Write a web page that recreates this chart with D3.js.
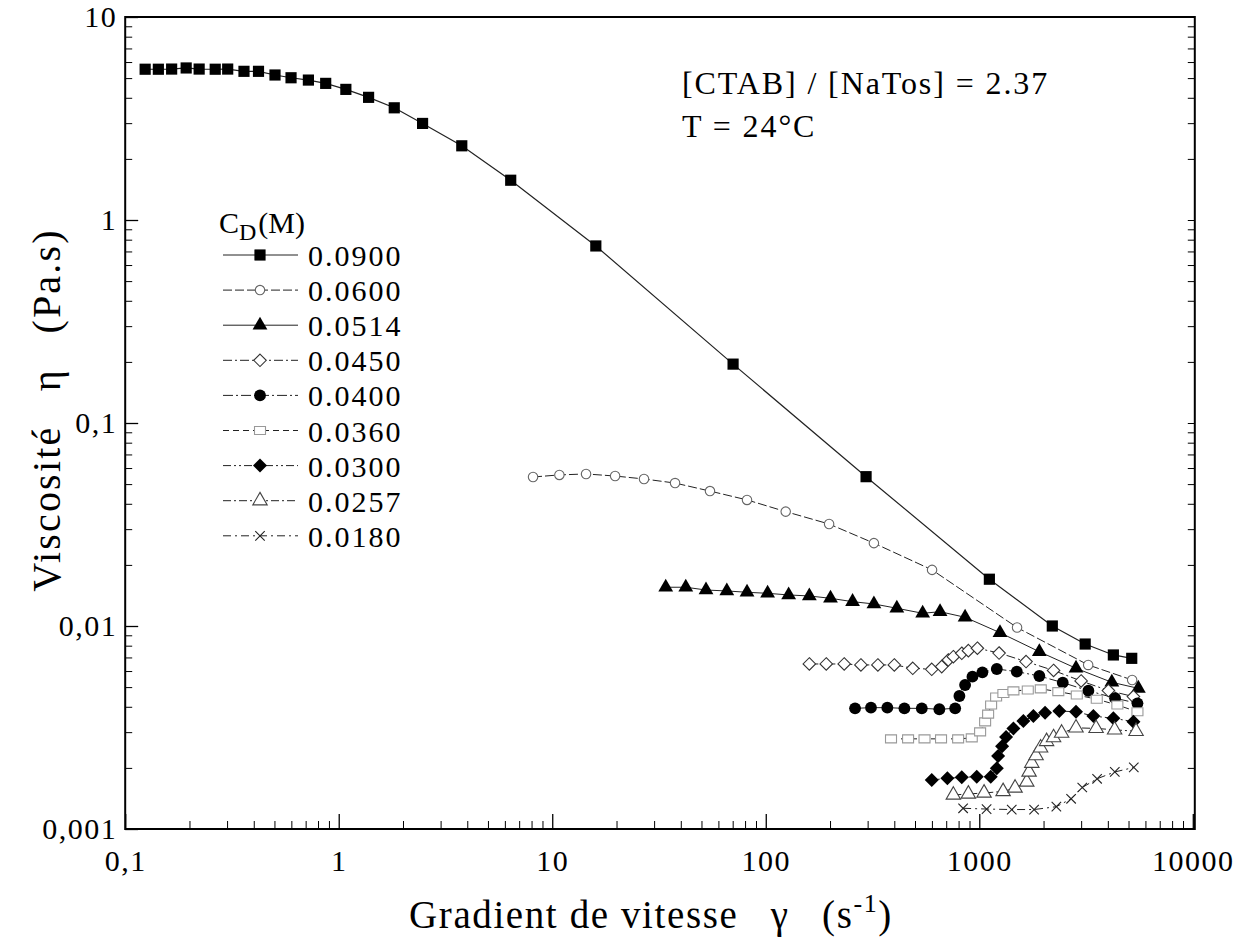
<!DOCTYPE html>
<html><head><meta charset="utf-8">
<script src="https://cdn.jsdelivr.net/npm/d3@7"></script>
<style>
body{margin:0;background:#fff;}
svg text{font-family:"Liberation Serif","Times New Roman",serif;fill:#000;}
</style></head><body>
<svg id="c" width="1254" height="944"></svg>
<script>
// ---- data ----
const seriesNames = ["0.0900","0.0600","0.0514","0.0450","0.0400","0.0360","0.0300","0.0257","0.0180"];
const x0900 = [0.124,0.143,0.165,0.193,0.222,0.264,0.302,0.360,0.421,0.503,0.598,0.721,0.869,1.08,1.38,1.82,2.47,3.77,6.39,16.0,70.3,295,1115,2198,3133,4246,5176];
const y0900 = [5.53,5.53,5.54,5.61,5.54,5.53,5.54,5.40,5.40,5.18,5.02,4.89,4.71,4.40,4.02,3.57,2.99,2.32,1.57,0.745,0.195,0.0544,0.0170,0.0100,0.00815,0.00720,0.00693];
const x0600 = [8.13,10.8,14.4,19.7,26.9,37.6,54.8,81.7,124,198,321,601,1503,3236,5200];
const y0600 = [0.0542,0.0555,0.0561,0.0548,0.0530,0.0506,0.0462,0.0418,0.0366,0.0318,0.0256,0.0189,0.00983,0.00643,0.00542];
const x0514 = [34.0,42.2,52.5,65.7,81.7,102,128,160,201,255,321,411,543,655,858,1250,1911,2838,4176,5560];
const y0514 = [0.01552,0.01552,0.01504,0.01488,0.01466,0.01449,0.01422,0.01406,0.01369,0.01318,0.01284,0.01223,0.01155,0.01176,0.01104,0.00927,0.00747,0.00619,0.00528,0.00493];
const x0450 = [160,192,233,279,335,400,488,599,667,716,756,828,889,980,1238,1656,2228,2999,4025,5272];
const y0450 = [0.00650,0.00650,0.00650,0.00643,0.00643,0.00643,0.00619,0.00612,0.00631,0.00680,0.00706,0.00734,0.00756,0.00777,0.00736,0.00668,0.00604,0.00536,0.00481,0.00449];
const x0400 = [262,311,371,446,538,650,771,807,858,929,1034,1208,1499,1911,2460,3243,4325,5505];
const y0400 = [0.00393,0.00396,0.00396,0.00393,0.00393,0.00389,0.00393,0.00452,0.00512,0.00563,0.00591,0.00614,0.00596,0.00567,0.00526,0.00480,0.00441,0.00416];
const x0360 = [386,464,554,662,796,922,1009,1065,1100,1136,1199,1297,1445,1687,1941,2345,2862,3550,4433,5505];
const y0360 = [0.00278,0.00278,0.00278,0.00278,0.00278,0.00281,0.00301,0.00337,0.00368,0.00408,0.00447,0.00465,0.00479,0.00484,0.00490,0.00475,0.00457,0.00436,0.00408,0.00378];
const x0300 = [599,709,828,973,1132,1208,1225,1279,1335,1445,1609,1792,2033,2371,2838,3422,4246,5272];
const y0300 = [0.001743,0.001777,0.001797,0.001809,0.001809,0.00199,0.00229,0.00256,0.00284,0.00313,0.00340,0.00360,0.00374,0.00381,0.00378,0.00360,0.00351,0.00338];
const x0257 = [756,889,1053,1293,1471,1669,1711,1762,1845,1937,2066,2228,2430,2838,3524,4303,5423];
const y0257 = [0.001471,0.001488,0.001505,0.001531,0.001592,0.001704,0.00191,0.00211,0.00230,0.00251,0.00270,0.00282,0.00297,0.00315,0.00313,0.00308,0.00303];
const x0180 = [840,1082,1419,1806,2296,2692,3036,3563,4312,5292];
const y0180 = [0.001265,0.001254,0.001247,0.001247,0.001288,0.001409,0.001601,0.001768,0.00191,0.00201];

const xTickValues = [0.1,1,10,100,1000,10000];
const xTickLabels = ["0,1","1","10","100","1000","10000"];
const yTickValues = [0.001,0.01,0.1,1,10];
const yTickLabels = ["0,001","0,01","0,1","1","10"];
const annotation = ["[CTAB] / [NaTos] = 2.37","T = 24°C"];

// ---- styles per series ----
const xs = [x0900,x0600,x0514,x0450,x0400,x0360,x0300,x0257,x0180];
const ys = [y0900,y0600,y0514,y0450,y0400,y0360,y0300,y0257,y0180];
const styles = [
  {sym:"square", fill:"#000", stroke:"none", size:125, dash:null, lw:1.2},
  {sym:"circle", fill:"#fff", stroke:"#666", size:70, dash:"9,3", lw:1},
  {sym:"triangle", fill:"#000", stroke:"none", size:95, dash:null, lw:1},
  {sym:"diamond", fill:"#fff", stroke:"#333", size:100, dash:"9,3,2,3", lw:1},
  {sym:"circle", fill:"#000", stroke:"none", size:110, dash:"10,3,2,3", lw:1},
  {sym:"rect", fill:"#fff", stroke:"#999", size:0, dash:"6,4", lw:1},
  {sym:"diamond", fill:"#000", stroke:"none", size:125, dash:"8,3,2,3,2,3", lw:1},
  {sym:"triangle", fill:"#fff", stroke:"#444", size:90, dash:"8,3,2,3", lw:1},
  {sym:"times", fill:"none", stroke:"#222", size:60, dash:"8,4,2,4", lw:1}
];

const svg = d3.select("#c");
const FONT = "'Liberation Serif','Times New Roman',serif";
const L = 125.2, R = 1192.8, T = 17, B = 829;
const x = d3.scaleLog().domain([0.1,10000]).range([L,R]);
const y = d3.scaleLog().domain([0.001,10]).range([B,T]);

function symPath(st){
  if(st.sym==="rect") return "M-5.5,-4H5.5V4H-5.5Z";
  const t = {square:d3.symbolSquare,circle:d3.symbolCircle,triangle:d3.symbolTriangle,
             diamond:d3.symbolDiamond2,times:d3.symbolTimes}[st.sym];
  return d3.symbol(t, st.size)();
}

// ---- axes ----
const minorX = [], minorY = [];
for(let e=-1;e<4;e++) for(let m=2;m<10;m++) minorX.push(m*Math.pow(10,e));
for(let e=-3;e<1;e++) for(let m=2;m<10;m++) minorY.push(m*Math.pow(10,e));

const axisFont = g => g.selectAll("text").attr("font-size",30).attr("letter-spacing","1.5px")
  .style("font-family",FONT).attr("fill","#000");

const gx = svg.append("g").attr("transform",`translate(0,${B})`)
  .call(d3.axisBottom(x).tickValues(xTickValues).tickSizeInner(-15).tickSizeOuter(0).tickPadding(21)
    .tickFormat((d,i)=>xTickLabels[i]));
gx.attr("font-family",FONT).call(axisFont); gx.select(".domain").remove();
gx.selectAll("line").attr("stroke","#000").attr("stroke-width",1.3);
const gxm = svg.append("g").attr("transform",`translate(0,${B})`)
  .call(d3.axisBottom(x).tickValues(minorX).tickSize(-8).tickFormat(""));
gxm.select(".domain").remove(); gxm.selectAll("line").attr("stroke","#000");

const gy = svg.append("g").attr("transform",`translate(${L},0)`)
  .call(d3.axisLeft(y).tickValues(yTickValues).tickSizeInner(-13).tickSizeOuter(0).tickPadding(8)
    .tickFormat((d,i)=>yTickLabels[i]));
gy.attr("font-family",FONT).call(axisFont); gy.select(".domain").remove();
gy.selectAll("line").attr("stroke","#000").attr("stroke-width",1.3);
const gym = svg.append("g").attr("transform",`translate(${L},0)`)
  .call(d3.axisLeft(y).tickValues(minorY).tickSize(-7).tickFormat(""));
gym.select(".domain").remove(); gym.selectAll("line").attr("stroke","#000");

// right axis ticks
const gyr = svg.append("g").attr("transform",`translate(${R+2},0)`)
  .call(d3.axisRight(y).tickValues(yTickValues.concat(minorY)).tickSize(-7).tickFormat(""));
gyr.select(".domain").remove(); gyr.selectAll("line").attr("stroke","#000");

// frame
svg.append("rect").attr("x",L).attr("y",T).attr("width",R+2-L).attr("height",B-T)
  .attr("fill","none").attr("stroke","#000").attr("stroke-width",2);

// ---- series ----
const line = d3.line().x(d=>x(d[0])).y(d=>y(d[1]));
const plot = svg.append("g");
xs.forEach((xv,i)=>{
  const pts = xv.map((v,j)=>[v,ys[i][j]]);
  const st = styles[i];
  plot.append("path").datum(pts).attr("d",line).attr("fill","none")
    .attr("stroke","#222").attr("stroke-width",st.lw)
    .attr("stroke-dasharray",st.dash);
});
xs.forEach((xv,i)=>{
  const pts = xv.map((v,j)=>[v,ys[i][j]]);
  const st = styles[i];
  plot.append("g").selectAll("path").data(pts).join("path")
    .attr("transform",d=>`translate(${x(d[0])},${y(d[1])})`)
    .attr("d",symPath(st)).attr("fill",st.fill).attr("stroke",st.stroke).attr("stroke-width",1.1);
});

// ---- legend ----
const lg = svg.append("g");
const hdr = lg.append("text").attr("x",219).attr("y",233).attr("font-size",30);
hdr.append("tspan").text("C");
hdr.append("tspan").attr("dy",7).attr("font-size",24).text("D");
hdr.append("tspan").attr("dy",-7).attr("dx",2).text("(M)");
seriesNames.forEach((name,i)=>{
  const cy = 255 + i*35.1;
  const st = styles[i];
  lg.append("line").attr("x1",223).attr("x2",298).attr("y1",cy).attr("y2",cy)
    .attr("stroke","#222").attr("stroke-width",1).attr("stroke-dasharray",st.dash);
  lg.append("path").attr("transform",`translate(260,${cy})`).attr("d",symPath(st))
    .attr("fill",st.fill==="none"?"none":st.fill).attr("stroke",st.stroke).attr("stroke-width",1.1);
  lg.append("text").attr("x",308).attr("y",cy+11).attr("font-size",30)
    .attr("letter-spacing","2px").text(name);
});

// ---- annotation ----
annotation.forEach((t,i)=>{
  svg.append("text").attr("x",682).attr("y",94+i*43).attr("font-size",32)
    .attr("letter-spacing","1.9px").text(t);
});

// ---- axis titles ----
const xt = svg.append("text").attr("x",651).attr("y",928).attr("text-anchor","middle")
  .attr("font-size",39).attr("letter-spacing","1.6px");
xt.append("tspan").text("Gradient de vitesse\u2002 γ\u2002 (s");
xt.append("tspan").attr("dy",-16).attr("font-size",26).text("-1");
xt.append("tspan").attr("dy",16).text(")");

svg.append("text").attr("transform","translate(60,410) rotate(-90)").attr("text-anchor","middle")
  .attr("font-size",40).attr("letter-spacing","2.2px").text("Viscosité\u2002 η\u2002 (Pa.s)");
</script>
</body></html>
